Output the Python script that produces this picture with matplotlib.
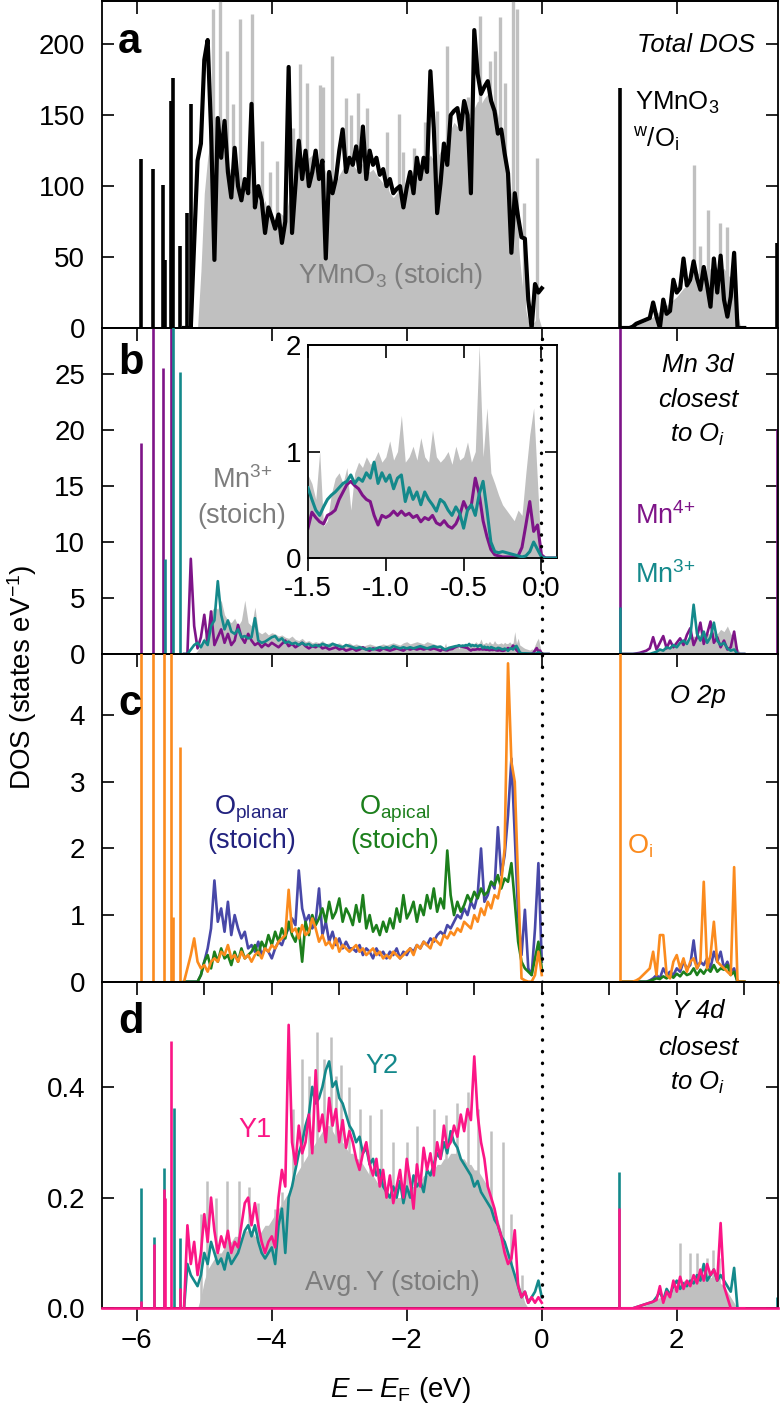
import numpy as np
import matplotlib
matplotlib.use("Agg")
import matplotlib.pyplot as plt
from matplotlib.ticker import FormatStrFormatter

plt.rcParams['font.family'] = ['Liberation Sans', 'DejaVu Sans']
plt.rcParams['mathtext.fontset'] = 'custom'
plt.rcParams['mathtext.rm'] = 'Liberation Sans'
plt.rcParams['mathtext.it'] = 'Liberation Sans:italic'
plt.rcParams['mathtext.bf'] = 'Liberation Sans:bold'

W, H = 781, 1412

# energy grids (eV)
e_vb = np.round(np.arange(-5.30, 0.001, 0.05), 2)      # valence band, 107 pts
e_cb = np.round(np.arange(1.20, 3.001, 0.05), 2)       # conduction band, 37 pts
e_fine = np.round(np.arange(-1.50, 0.101, 0.025), 3)   # near E_F (panel b + inset), 65 pts

# ---------------- panel a : total DOS ----------------
a_stoich_vb = [0, 0, 0, 0, 0, 40, 95, 120, 135, 150,
               140, 130, 125, 115, 110, 105, 110, 100, 105, 95,
               100, 95, 90, 85, 90, 80, 78, 75, 82, 80,
               78, 90, 95, 100, 110, 115, 118, 120, 122, 118,
               120, 115, 110, 105, 100, 102, 108, 112, 115, 118,
               115, 112, 118, 115, 112, 110, 112, 108, 105, 102,
               100, 95, 92, 95, 98, 100, 105, 108, 112, 110,
               115, 120, 118, 122, 118, 120, 125, 130, 135, 140,
               145, 142, 148, 145, 150, 148, 155, 160, 158, 162,
               165, 160, 158, 150, 140, 125, 110, 95, 80, 60,
               35, 15, 5, 2, 5, 8, 0]
a_stoich_cb = [0, 0, 0, 1, 2, 3, 4, 5, 6, 8,
               10, 12, 14, 16, 18, 20, 22, 25, 28, 30,
               32, 35, 38, 40, 42, 40, 42, 45, 42, 40,
               42, 38, 35, 25, 10, 0, 0]
a_stoich_spk_e = [-4.87, -4.77, -4.67, -4.57, -4.47, -4.30, -4.15, -4.02, -3.93, -3.68,
                  -3.58, -3.48, -3.28, -3.24, -3.11, -2.90, -2.83, -2.72, -2.59, -2.30,
                  -2.12, -2.05, -1.90, -1.73, -1.55, -1.41, -1.13, -1.09, -0.91, -0.77,
                  -0.69, -0.62, -0.54, -0.42, -0.36, -0.27, -0.07,
                  2.25, 2.35, 2.47, 2.64, 2.75, 2.86]
a_stoich_spk_v = [225, 250, 195, 158, 218, 221, 132, 110, 118, 141,
                  186, 173, 171, 170, 192, 162, 150, 166, 155, 138,
                  151, 124, 127, 145, 153, 199, 160, 163, 220, 188,
                  195, 219, 173, 250, 225, 88, 120,
                  115, 58, 83, 74, 71, 34]

a_oi_vb = [0, 0, 0, 60, 118, 130, 189, 203, 140, 48,
           148, 120, 146, 110, 92, 127, 100, 90, 105, 95,
           158, 85, 100, 90, 67, 85, 78, 70, 80, 60,
           75, 184, 67, 100, 132, 105, 125, 100, 110, 125,
           105, 118, 49, 110, 95, 105, 125, 140, 110, 120,
           115, 128, 110, 142, 105, 125, 115, 120, 108, 112,
           100, 105, 95, 98, 100, 85, 99, 110, 95, 120,
           105, 120, 110, 181, 141, 81, 102, 130, 115, 150,
           153, 155, 140, 160, 150, 95, 210, 179, 165, 170,
           174, 160, 153, 137, 140, 123, 109, 53, 95, 78,
           64, 63, 20, 0, 31, 25, 28]
a_oi_cb = [0, 0, 0, 1, 3, 4, 5, 6, 7, 18,
           8, 0, 20, 10, 12, 34, 25, 28, 49, 30,
           34, 47, 35, 27, 43, 30, 15, 49, 25, 51,
           20, 8, 22, 53, 0, 0, 0]
a_oi_spk_e = [-5.94, -5.76, -5.61, -5.58, -5.49, -5.47, -5.36, -5.26, -5.19, 1.16, 3.48]
a_oi_spk_v = [119, 112, 101, 48, 160, 176, 58, 81, 158, 169, 60]

# ---------------- panel b : Mn 3d ----------------
b_stoich_coarse = [0, 0, 0, 0, 0.3, 0.8, 1.5, 2.5, 3.8, 4.2,
                   4.0, 4.8, 3.5, 3.0, 2.8, 3.2, 2.5, 3.0, 4.8, 2.8,
                   2.5, 4.2, 2.0, 1.8, 2.0, 1.7, 1.9, 1.8, 1.6, 1.7,
                   1.5, 1.4, 1.6, 1.3, 1.2, 1.4, 1.1, 1.2, 1.0, 1.1,
                   1.0, 1.2, 0.9, 1.0, 1.1, 0.9, 1.0, 0.8, 0.9, 1.0,
                   0.8, 0.9, 0.8, 0.7, 0.8, 0.9, 0.8, 0.7, 0.8, 0.9,
                   0.8, 0.9, 1.0, 0.9, 0.8, 1.0, 1.1, 0.9, 1.0, 1.1,
                   1.0, 0.9, 1.1, 1.0, 0.9, 0.8]
b_stoich_fine = [0.78, 0.70, 0.55, 1.00, 0.30, 0.35, 0.60, 0.75, 0.80, 0.70,
                 0.85, 0.45, 0.80, 0.90, 0.85, 0.95, 0.88, 0.92, 1.00, 0.90,
                 0.95, 1.10, 0.92, 1.00, 1.34, 0.90, 0.95, 1.05, 0.92, 1.13,
                 0.95, 0.90, 1.20, 0.95, 0.90, 0.94, 1.00, 0.88, 1.05, 0.92,
                 0.95, 1.09, 0.90, 1.00, 2.00, 0.95, 1.41, 0.80, 0.70, 0.59,
                 0.50, 0.45, 0.40, 0.35, 0.45, 0.40, 0.80, 1.16, 1.41, 0.70,
                 0.00, 0.0, 0.0, 0.0, 0.0]
b_stoich_cb = [0, 0, 0, 0, 0, 0, 0, 0, 0.1, 0.2,
               0.3, 0.4, 0.5, 0.6, 0.7, 0.8, 0.9, 1.0, 1.2, 1.3,
               1.4, 1.6, 1.5, 1.8, 1.6, 1.9, 1.7, 2.0, 1.8, 2.2,
               2.0, 2.5, 1.8, 1.5, 0.5, 0, 0]

b_mn4_coarse = [0, 0, 8.5, 2.5, 0.5, 1.5, 3.5, 1.0, 3.8, 0.8,
                1.5, 2.2, 1.0, 1.8, 0.8, 1.2, 2.6, 1.5, 1.0, 1.8,
                1.2, 0.8, 1.0, 0.6, 0.9, 0.7, 1.0, 0.8, 0.6, 0.9,
                1.2, 0.7, 0.9, 0.6, 0.8, 1.0, 0.7, 0.5, 0.7, 0.6,
                0.8, 0.5, 0.6, 0.4, 0.5, 0.6, 0.4, 0.5, 0.3, 0.4,
                0.5, 0.3, 0.4, 0.6, 0.4, 0.3, 0.5, 0.4, 0.3, 0.5,
                0.4, 0.3, 0.4, 0.5, 0.4, 0.3, 0.5, 0.4, 0.5, 0.4,
                0.5, 0.4, 0.5, 0.4, 0.5, 0.4]
b_mn4_fine = [0.28, 0.43, 0.38, 0.34, 0.32, 0.40, 0.42, 0.45, 0.55, 0.62,
              0.69, 0.72, 0.68, 0.65, 0.59, 0.55, 0.53, 0.40, 0.31, 0.40,
              0.38, 0.40, 0.44, 0.40, 0.44, 0.40, 0.42, 0.38, 0.40, 0.34,
              0.38, 0.36, 0.40, 0.33, 0.31, 0.35, 0.30, 0.28, 0.32, 0.40,
              0.53, 0.45, 0.50, 0.75, 0.60, 0.35, 0.20, 0.08, 0.03, 0.02,
              0.01, 0.01, 0.01, 0.01, 0.02, 0.10, 0.31, 0.53, 0.25, 0.31,
              0.03, 0.0, 0.0, 0.0, 0.0]
b_mn4_cb = [0, 0, 0, 0, 0.05, 0.1, 0.2, 0.3, 0.5, 1.5,
            0.4, 1.0, 1.6, 0.5, 1.2, 0.6, 1.0, 1.4, 0.8, 1.7,
            2.3, 0.8, 1.5, 2.8, 0.9, 1.8, 2.9, 1.0, 1.5, 0.6,
            1.2, 0.4, 0.6, 2.0, 0, 0, 0]
b_mn4_spk_e = [-5.94, -5.76, -5.61, -5.49, 1.16, 3.48]
b_mn4_spk_v = [18.8, 35, 25.5, 35, 35, 20.1]

b_mn3_coarse = [0, 0, 0.4, 0.8, 1.0, 0.6, 1.2, 0.8, 2.5, 3.0,
                6.5, 3.5, 2.2, 3.0, 2.0, 1.8, 2.2, 1.5, 1.6, 1.4,
                1.5, 3.2, 1.2, 1.0, 1.1, 1.3, 1.5, 1.6, 1.2, 1.4,
                1.0, 1.1, 0.9, 1.0, 0.8, 1.0, 0.8, 0.9, 0.7, 0.8,
                0.7, 0.9, 0.8, 0.7, 0.9, 0.8, 0.7, 0.6, 0.8, 0.7,
                0.6, 0.5, 0.6, 0.5, 0.4, 0.5, 0.4, 0.5, 0.6, 0.5,
                0.6, 0.5, 0.7, 0.6, 0.5, 0.6, 0.5, 0.6, 0.5, 0.6,
                0.7, 0.6, 0.5, 0.6, 0.7, 0.6]
b_mn3_fine = [0.66, 0.55, 0.45, 0.40, 0.48, 0.55, 0.59, 0.62, 0.66, 0.70,
              0.72, 0.78, 0.70, 0.75, 0.72, 0.80, 0.75, 0.90, 0.70, 0.80,
              0.72, 0.78, 0.65, 0.75, 0.78, 0.53, 0.66, 0.55, 0.62, 0.50,
              0.62, 0.55, 0.50, 0.44, 0.55, 0.52, 0.45, 0.40, 0.48, 0.42,
              0.28, 0.45, 0.50, 0.40, 0.60, 0.72, 0.45, 0.15, 0.06, 0.05,
              0.06, 0.05, 0.04, 0.03, 0.02, 0.01, 0.02, 0.06, 0.15, 0.08,
              0.01, 0.0, 0.0, 0.0, 0.0]
b_mn3_cb = [0, 0, 0, 0, 0, 0, 0, 0, 0, 0.1,
            0.2, 0.4, 0.3, 0.6, 0.5, 0.8, 0.6, 1.0, 1.2, 0.9,
            1.5, 4.4, 1.8, 1.2, 2.0, 1.0, 1.5, 2.8, 1.2, 0.8,
            1.0, 0.5, 0.3, 0.4, 0, 0, 0]
b_mn3_spk_e = [-5.58, -5.46, -5.36, 1.16]
b_mn3_spk_v = [8.5, 35, 25.2, 4.2]

# ---------------- panel c : O 2p ----------------
c_planar_vb = [0, 0, 0, 0, 0, 0.1, 0.3, 0.5, 0.8, 1.52,
               0.9, 1.1, 0.75, 1.2, 0.7, 1.0, 0.8, 0.65, 0.75, 0.5,
               0.55, 0.45, 0.6, 0.4, 0.5, 0.45, 0.35, 0.5, 0.6, 0.55,
               0.7, 0.8, 0.95, 0.85, 1.67, 1.1, 0.9, 1.0, 0.8, 0.9,
               1.4, 0.7, 0.9, 0.6, 0.75, 0.55, 0.65, 0.5, 0.6, 0.5,
               0.5, 0.45, 0.55, 0.4, 0.5, 0.45, 0.35, 0.5, 0.4, 0.45,
               0.35, 0.45, 0.4, 0.5, 0.35, 0.45, 0.4, 0.5, 0.45, 0.55,
               0.5, 0.6, 0.55, 0.65, 0.6, 0.7, 0.75, 0.7, 0.85, 0.8,
               0.9, 1.0, 0.95, 1.1, 1.0, 1.2, 1.1, 1.3, 2.0, 1.2,
               1.3, 1.5, 1.4, 2.32, 1.6, 1.9, 2.5, 3.35, 2.2, 1.0,
               0.4, 1.08, 0.2, 0.1, 0.8, 1.78, 0.3]
c_planar_cb = [0, 0, 0, 0, 0, 0, 0, 0, 0.02, 0.05,
               0.1, 0.05, 0.2, 0.1, 0.15, 0.1, 0.2, 0.15, 0.3, 0.2,
               0.25, 0.62, 0.2, 0.3, 0.25, 0.35, 0.2, 0.45, 0.3, 0.45,
               0.2, 0.3, 0.15, 0.2, 0, 0, 0]

c_apical_vb = [0, 0, 0, 0, 0, 0.1, 0.3, 0.4, 0.2, 0.45,
               0.3, 0.5, 0.35, 0.4, 0.25, 0.45, 0.3, 0.5, 0.35, 0.4,
               0.45, 0.55, 0.4, 0.6, 0.5, 0.7, 0.55, 0.75, 0.6, 0.8,
               0.65, 0.9, 0.7, 0.6, 0.8, 0.3, 0.9, 0.7, 1.0, 0.85,
               0.95, 1.1, 0.9, 1.2, 0.95, 1.05, 1.25, 0.9, 1.1, 1.0,
               0.85, 1.15, 0.9, 1.3, 0.8, 1.0, 0.75, 0.85, 0.7, 0.9,
               0.75, 0.95, 0.8, 1.1, 0.9, 1.3, 0.95, 1.05, 1.2, 0.9,
               1.15, 1.0, 1.3, 1.1, 1.4, 1.05, 1.25, 1.1, 1.97, 1.3,
               1.0, 1.2, 1.05, 1.15, 1.3, 1.2, 1.35, 1.25, 1.4, 1.3,
               1.35, 1.5, 1.45, 1.6, 1.4, 1.55, 1.5, 1.78, 1.2, 0.6,
               0.3, 0.2, 0.15, 0.1, 0.35, 0.6, 0.2]
c_apical_cb = [0, 0, 0, 0, 0, 0, 0, 0, 0.01, 0.03,
               0.05, 0.04, 0.08, 0.05, 0.1, 0.06, 0.12, 0.08, 0.15, 0.1,
               0.12, 0.2, 0.1, 0.18, 0.12, 0.2, 0.15, 0.25, 0.15, 0.2,
               0.18, 0.25, 0.1, 0.15, 0, 0, 0]

c_oi_vb = [0, 0.2, 0.4, 0.65, 0.3, 0.2, 0.25, 0.15, 0.3, 0.35,
           0.3, 0.45, 0.4, 0.55, 0.35, 0.4, 0.3, 0.45, 0.35, 0.4,
           0.3, 0.4, 0.45, 0.35, 0.5, 0.45, 0.55, 0.5, 0.6, 0.65,
           0.7, 1.38, 0.75, 0.8, 0.65, 0.85, 0.7, 0.75, 0.95, 0.8,
           0.6, 0.7, 0.55, 0.6, 0.5, 0.65, 0.45, 0.55, 0.5, 0.45,
           0.5, 0.55, 0.45, 0.5, 0.4, 0.45, 0.5, 0.4, 0.45, 0.35,
           0.4, 0.35, 0.45, 0.4, 0.35, 0.4, 0.45, 0.5, 0.4, 0.55,
           0.5, 0.6, 0.55, 0.5, 0.65, 0.6, 0.55, 0.7, 0.65, 0.75,
           0.7, 0.8, 0.75, 0.9, 0.85, 0.8, 1.0, 0.9, 1.1, 1.0,
           1.2, 1.1, 1.3, 1.25, 1.5, 2.0, 4.78, 3.3, 3.0, 1.5,
           0.05, 0.02, 0.0, 0.0, 0.1, 0.45, 0.1]
c_oi_cb = [0, 0, 0, 0, 0.02, 0.05, 0.1, 0.15, 0.2, 0.45,
           0.1, 0.7, 0.7, 0.1, 0.05, 0.3, 0.4, 0.2, 0.35, 0.15,
           0.3, 0.35, 0.2, 0.3, 1.5, 0.2, 0.4, 0.9, 0.3, 0.25,
           0.2, 0.15, 0.1, 1.72, 0, 0, 0]
c_oi_spk_e = [-5.94, -5.76, -5.59, -5.49, -5.46, -5.36, 1.16]
c_oi_spk_v = [6, 6, 6, 6, 0.97, 3.52, 6]

# ---------------- panel d : Y 4d ----------------
d_avg_vb = [0, 0, 0, 0, 0, 0.02, 0.05, 0.07, 0.08, 0.09,
            0.1, 0.1, 0.11, 0.12, 0.12, 0.13, 0.13, 0.12, 0.14, 0.14,
            0.14, 0.13, 0.13, 0.14, 0.15, 0.15, 0.16, 0.17, 0.18, 0.19,
            0.2, 0.21, 0.22, 0.24, 0.25, 0.26, 0.27, 0.28, 0.29, 0.30,
            0.31, 0.32, 0.33, 0.33, 0.32, 0.31, 0.3, 0.3, 0.29, 0.28,
            0.28, 0.27, 0.27, 0.26, 0.25, 0.24, 0.24, 0.23, 0.22, 0.22,
            0.21, 0.2, 0.2, 0.2, 0.2, 0.21, 0.21, 0.22, 0.22, 0.23,
            0.23, 0.24, 0.24, 0.25, 0.25, 0.26, 0.26, 0.27, 0.27, 0.28,
            0.28, 0.28, 0.27, 0.27, 0.26, 0.26, 0.25, 0.25, 0.24, 0.23,
            0.22, 0.2, 0.18, 0.16, 0.14, 0.12, 0.1, 0.08, 0.06, 0.05,
            0.03, 0.01, 0, 0, 0, 0, 0]
d_avg_cb = [0, 0, 0, 0, 0, 0.002, 0.004, 0.006, 0.01, 0.012,
            0.015, 0.02, 0.02, 0.025, 0.03, 0.035, 0.04, 0.045, 0.05, 0.05,
            0.055, 0.05, 0.055, 0.06, 0.055, 0.06, 0.055, 0.06, 0.05, 0.045,
            0.04, 0.03, 0.02, 0.01, 0, 0, 0]
d_avg_spk_e = [-5.05, -4.96, -4.82, -4.67, -4.49, -4.34, -4.20, -3.95, -3.85, -3.68,
               -3.55, -3.45, -3.33, -3.22, -3.13, -3.05, -2.98, -2.85, -2.70, -2.55,
               -2.38, -2.20, -2.00, -1.85, -1.60, -1.42, -1.25, -1.10, -0.95, -0.75,
               -0.57, -0.45, -0.30, 2.05, 2.20, 2.30, 2.45, 2.54, 2.62]
d_avg_spk_v = [0.17, 0.23, 0.20, 0.23, 0.23, 0.22, 0.19, 0.18, 0.21, 0.36,
               0.45, 0.42, 0.50, 0.45, 0.49, 0.42, 0.44, 0.40, 0.36, 0.35,
               0.36, 0.30, 0.30, 0.33, 0.36, 0.35, 0.37, 0.39, 0.36, 0.32,
               0.30, 0.17, 0.06, 0.118, 0.10, 0.10, 0.09, 0.105, 0.09]

d_y1_vb = [0, 0.15, 0.08, 0.12, 0.06, 0.1, 0.17, 0.12, 0.2, 0.14,
           0.1, 0.13, 0.11, 0.14, 0.1, 0.12, 0.11, 0.15, 0.19, 0.2,
           0.15, 0.19, 0.15, 0.12, 0.1, 0.12, 0.13, 0.11, 0.2, 0.25,
           0.22, 0.512, 0.3, 0.26, 0.33, 0.28, 0.3, 0.35, 0.28, 0.43,
           0.32, 0.35, 0.3, 0.38, 0.33, 0.36, 0.3, 0.34, 0.29, 0.32,
           0.3, 0.27, 0.25, 0.28, 0.3, 0.26, 0.24, 0.27, 0.22, 0.25,
           0.2, 0.24, 0.19, 0.22, 0.25, 0.2, 0.27, 0.23, 0.18, 0.26,
           0.22, 0.29, 0.25, 0.28, 0.24, 0.3, 0.27, 0.33, 0.29, 0.3,
           0.33, 0.31, 0.35, 0.32, 0.36, 0.34, 0.455, 0.35, 0.3, 0.27,
           0.22, 0.2, 0.18, 0.15, 0.13, 0.1, 0.08, 0.09, 0.141, 0.04,
           0.02, 0.03, 0.01, 0.02, 0.01, 0.02, 0.01]
d_y1_cb = [0, 0, 0, 0, 0.002, 0.004, 0.006, 0.008, 0.01, 0.012,
           0.015, 0.04, 0.01, 0.03, 0.02, 0.05, 0.03, 0.057, 0.035, 0.05,
           0.04, 0.06, 0.045, 0.07, 0.05, 0.08, 0.06, 0.07, 0.05, 0.154,
           0.04, 0.02, 0.0, 0, 0, 0, 0]
d_y1_spk_e = [-5.94, -5.75, -5.60, -5.58, -5.49, -5.36, 1.15]
d_y1_spk_v = [0.013, 0.117, 0.216, 0.20, 0.482, 0.036, 0.181]

d_y2_vb = [0, 0.08, 0.06, 0.05, 0.04, 0.06, 0.1, 0.08, 0.12, 0.1,
           0.08, 0.09, 0.07, 0.1, 0.08, 0.09, 0.1, 0.12, 0.14, 0.15,
           0.13, 0.15, 0.12, 0.1, 0.09, 0.1, 0.11, 0.08, 0.15, 0.18,
           0.1, 0.2, 0.22, 0.25, 0.28, 0.3, 0.33, 0.35, 0.4, 0.37,
           0.38, 0.4, 0.43, 0.446, 0.4, 0.41, 0.38, 0.37, 0.35, 0.33,
           0.32, 0.3, 0.31, 0.28, 0.29, 0.26, 0.27, 0.24, 0.25, 0.22,
           0.21, 0.2, 0.22, 0.2, 0.23, 0.19, 0.22, 0.2, 0.24, 0.22,
           0.23, 0.21, 0.25, 0.24, 0.26, 0.28, 0.27, 0.3, 0.28, 0.32,
           0.3, 0.29, 0.27, 0.26, 0.25, 0.24, 0.22, 0.23, 0.21, 0.2,
           0.19, 0.18, 0.16, 0.15, 0.13, 0.12, 0.1, 0.08, 0.06, 0.04,
           0.02, 0.03, 0.01, 0.02, 0.03, 0.05, 0.02]
d_y2_cb = [0, 0, 0, 0, 0.002, 0.004, 0.006, 0.008, 0.01, 0.012,
           0.02, 0.03, 0.015, 0.035, 0.025, 0.04, 0.05, 0.035, 0.045, 0.04,
           0.05, 0.045, 0.06, 0.05, 0.08, 0.05, 0.06, 0.07, 0.05, 0.06,
           0.05, 0.04, 0.03, 0.073, 0, 0, 0]
d_y2_spk_e = [-5.94, -5.75, -5.60, -5.45, -5.36, 1.15, 3.48]
d_y2_spk_v = [0.217, 0.129, 0.253, 0.361, 0.127, 0.247, 0.02]

# colours
GRAY = '#c0c0c0'
GRAY_TXT = '#7d7d7d'
PURPLE = '#7e1488'
TEAL = '#14898b'
ORANGE = '#fb8b1e'
BLUE = '#4848a8'
BLUE_TXT = '#22227f'
GREEN = '#1c7f1c'
PINK = '#fb1686'

XMIN, XMAX = -6.52, 3.50
L, R = 101.7 / W, 778 / W


def rect(top, bot):
    return [L, 1 - bot / H, R - L, (bot - top) / H]


def style(ax, ylim, yticks, top_ticks):
    ax.set_xlim(XMIN, XMAX)
    ax.set_ylim(*ylim)
    ax.set_yticks(yticks)
    ax.tick_params(axis='y', direction='in', left=True, right=True,
                   length=8.5, width=1.2, labelsize=20, pad=12)
    ax.tick_params(axis='x', bottom=False, labelbottom=False)
    sec = ax.secondary_xaxis('top')
    sec.set_xticks(top_ticks)
    sec.tick_params(direction='in', length=9, width=1.2, labeltop=False)
    sec.spines['top'].set_linewidth(1.3)
    for s in ax.spines.values():
        s.set_linewidth(1.3)


def ftext(x, y, s, **kw):
    kw.setdefault('va', 'baseline')
    fig.text(x / W, 1 - y / H, s, **kw)


def dotted(ax):
    ax.axvline(0, color='k', lw=2.4, ls=(0, (0.1, 3.4)),
               dash_capstyle='round', zorder=6)


fig = plt.figure(figsize=(W / 100, H / 100), dpi=100)

ax_a = fig.add_axes(rect(1, 328))
ax_b = fig.add_axes(rect(328, 654))
ax_c = fig.add_axes(rect(654, 981.7))
ax_d = fig.add_axes(rect(981.7, 1308.3))

two_ev = [-6, -4, -2, 0, 2]
style(ax_a, (0, 230.5), [0, 50, 100, 150, 200], two_ev)
style(ax_b, (0, 29.1), [0, 5, 10, 15, 20, 25], two_ev)
style(ax_c, (0, 4.92), [0, 1, 2, 3, 4], two_ev)
style(ax_d, (0, 0.59), [0.0, 0.2, 0.4], list(range(-6, 4)))
ax_d.yaxis.set_major_formatter(FormatStrFormatter('%.1f'))
ax_d.set_xticks(two_ev)
ax_d.tick_params(axis='x', bottom=True, labelbottom=True, direction='out',
                 length=9, width=1.2, labelsize=20, pad=5)

# panel a
ax_a.fill_between(e_vb, 0, a_stoich_vb, color=GRAY, lw=0, zorder=1)
ax_a.fill_between(e_cb, 0, a_stoich_cb, color=GRAY, lw=0, zorder=1)
ax_a.vlines(a_stoich_spk_e, 0, a_stoich_spk_v, colors=GRAY, lw=2.4, zorder=1)
ax_a.plot(e_vb, a_oi_vb, color='k', lw=3.0, zorder=3)
ax_a.plot(e_cb, a_oi_cb, color='k', lw=3.0, zorder=3)
ax_a.vlines(a_oi_spk_e, 0, a_oi_spk_v, colors='k', lw=2.6, zorder=3)

# panel b
e_b = np.concatenate([e_vb[e_vb < -1.52], e_fine])
b_stoich = np.concatenate([b_stoich_coarse, b_stoich_fine])
b_mn4 = np.concatenate([b_mn4_coarse, b_mn4_fine])
b_mn3 = np.concatenate([b_mn3_coarse, b_mn3_fine])
ax_b.fill_between(e_b, 0, b_stoich, color=GRAY, lw=0, zorder=1)
ax_b.fill_between(e_cb, 0, b_stoich_cb, color=GRAY, lw=0, zorder=1)
ax_b.plot(e_b, b_mn4, color=PURPLE, lw=1.9, zorder=2)
ax_b.plot(e_cb, b_mn4_cb, color=PURPLE, lw=1.9, zorder=2)
ax_b.vlines(b_mn4_spk_e, 0, b_mn4_spk_v, colors=PURPLE, lw=1.9, zorder=2)
ax_b.plot(e_b, b_mn3, color=TEAL, lw=1.9, zorder=3)
ax_b.plot(e_cb, b_mn3_cb, color=TEAL, lw=1.9, zorder=3)
ax_b.vlines(b_mn3_spk_e, 0, b_mn3_spk_v, colors=TEAL, lw=1.9, zorder=3)
dotted(ax_b)

# panel c
ax_c.plot(e_vb, c_planar_vb, color=BLUE, lw=1.9, zorder=2)
ax_c.plot(e_cb, c_planar_cb, color=BLUE, lw=1.9, zorder=2)
ax_c.plot(e_vb, c_apical_vb, color=GREEN, lw=1.9, zorder=3)
ax_c.plot(e_cb, c_apical_cb, color=GREEN, lw=1.9, zorder=3)
ax_c.plot(e_vb, c_oi_vb, color=ORANGE, lw=1.9, zorder=4)
ax_c.plot(e_cb, c_oi_cb, color=ORANGE, lw=1.9, zorder=4)
ax_c.vlines(c_oi_spk_e, 0, c_oi_spk_v, colors=ORANGE, lw=1.9, zorder=4)
ax_c.axhline(0, color=ORANGE, lw=1.9, zorder=4, clip_on=False)
dotted(ax_c)

# panel d
ax_d.fill_between(e_vb, 0, d_avg_vb, color=GRAY, lw=0, zorder=1)
ax_d.fill_between(e_cb, 0, d_avg_cb, color=GRAY, lw=0, zorder=1)
ax_d.vlines(d_avg_spk_e, 0, d_avg_spk_v, colors=GRAY, lw=1.8, zorder=1)
ax_d.plot(e_vb, d_y2_vb, color=TEAL, lw=1.9, zorder=2)
ax_d.plot(e_cb, d_y2_cb, color=TEAL, lw=1.9, zorder=2)
ax_d.vlines(d_y2_spk_e, 0, d_y2_spk_v, colors=TEAL, lw=1.9, zorder=2)
ax_d.plot(e_vb, d_y1_vb, color=PINK, lw=1.9, zorder=3)
ax_d.plot(e_cb, d_y1_cb, color=PINK, lw=1.9, zorder=3)
ax_d.vlines(d_y1_spk_e, 0, d_y1_spk_v, colors=PINK, lw=1.9, zorder=3)
ax_d.axhline(0, color=PINK, lw=1.9, zorder=3, clip_on=False)
dotted(ax_d)

# inset of panel b
ax_in = fig.add_axes([308 / W, 1 - 558 / H, (557 - 308) / W, (558 - 345) / H])
ax_in.fill_between(e_fine, 0, b_stoich_fine, color=GRAY, lw=0, zorder=1)
ax_in.plot(e_fine, b_mn4_fine, color=PURPLE, lw=2.2, zorder=2)
ax_in.plot(e_fine, b_mn3_fine, color=TEAL, lw=2.2, zorder=3)
ax_in.set_xlim(-1.5, 0.1)
ax_in.set_ylim(0, 2)
ax_in.set_xticks([-1.5, -1.0, -0.5, 0.0])
ax_in.set_yticks([0, 1, 2])
ax_in.xaxis.set_major_formatter(FormatStrFormatter('%.1f'))
ax_in.tick_params(axis='x', direction='out', length=9, width=1.2, labelsize=20, pad=4)
ax_in.tick_params(axis='y', direction='in', left=True, right=True, length=8.5,
                  width=1.2, labelsize=20, pad=5)
sec_in = ax_in.secondary_xaxis('top')
sec_in.set_xticks([-1.5, -1.0, -0.5, 0.0])
sec_in.tick_params(direction='in', length=9, width=1.2, labeltop=False)
sec_in.spines['top'].set_linewidth(1.3)
for s in ax_in.spines.values():
    s.set_linewidth(1.3)
dotted(ax_in)

# panel letters
for lab, yb in [('a', 53), ('b', 374), ('c', 715), ('d', 1033)]:
    ftext(118, yb, lab, fontsize=30, fontweight='bold', ha='left')

# panel a texts
ftext(755, 52, 'Total DOS', fontsize=18.5, style='italic', ha='right')
ftext(635, 110, r'YMnO$_3$', fontsize=18.5, ha='left')
ftext(633, 148, r'$^{\mathrm{w}}$/O$_{\mathrm{i}}$', fontsize=18.5, ha='left')
ftext(391, 283, r'YMnO$_3$ (stoich)', fontsize=19.5, color=GRAY_TXT, ha='center')

# panel b texts
ftext(698, 372, 'Mn 3d', fontsize=18.5, style='italic', ha='center')
ftext(698, 407, 'closest', fontsize=18.5, style='italic', ha='center')
ftext(698, 442, r'to O$_{i}$', fontsize=18.5, style='italic', ha='center')
ftext(635, 524, r'Mn$^{4{+}}$', fontsize=19.5, color=PURPLE, ha='left')
ftext(635, 583, r'Mn$^{3{+}}$', fontsize=19.5, color=TEAL, ha='left')
ftext(242, 488, r'Mn$^{3{+}}$', fontsize=19.5, color=GRAY_TXT, ha='center')
ftext(242, 523, '(stoich)', fontsize=19.5, color=GRAY_TXT, ha='center')

# panel c texts
ftext(698, 703, 'O 2p', fontsize=18.5, style='italic', ha='center')
ftext(252, 815, r'O$_{\mathrm{planar}}$', fontsize=19.5, color=BLUE_TXT, ha='center')
ftext(252, 848, '(stoich)', fontsize=19.5, color=BLUE_TXT, ha='center')
ftext(395, 815, r'O$_{\mathrm{apical}}$', fontsize=19.5, color=GREEN, ha='center')
ftext(395, 848, '(stoich)', fontsize=19.5, color=GREEN, ha='center')
ftext(627, 853, r'O$_{\mathrm{i}}$', fontsize=19.5, color=ORANGE, ha='left')

# panel d texts
ftext(698, 1018, 'Y 4d', fontsize=18.5, style='italic', ha='center')
ftext(698, 1055, 'closest', fontsize=18.5, style='italic', ha='center')
ftext(698, 1090, r'to O$_{i}$', fontsize=18.5, style='italic', ha='center')
ftext(238, 1137, 'Y1', fontsize=19.5, color=PINK, ha='left')
ftext(365, 1073, 'Y2', fontsize=19.5, color=TEAL, ha='left')
ftext(392, 1290, 'Avg. Y (stoich)', fontsize=19.5, color=GRAY_TXT, ha='center')

# axis labels
ftext(22, 677, r'DOS (states eV$^{-1}$)', fontsize=20, rotation=90,
      ha='center', va='center')
ftext(401, 1390, '$E$ \u2013 $E_{\\mathrm{F}}$ (eV)', fontsize=20,
      ha='center', va='center')

fig.savefig('out.png', dpi=100)
